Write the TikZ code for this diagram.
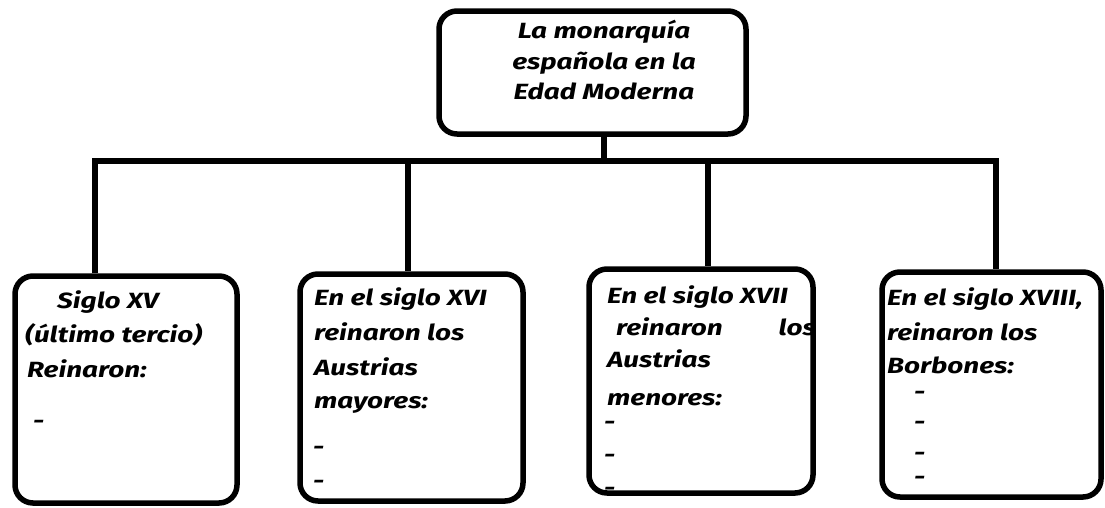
\documentclass[tikz,border=0pt]{standalone}
\usepackage{fontspec}
\newfontfamily\gsfont[FakeStretch=1.27]{Fira Sans}
\begin{document}
\begin{tikzpicture}[x=1pt,y=-1pt,
  box/.style={draw=black,line width=5.5pt,rounded corners=18pt,inner sep=0pt},
  conn/.style={draw=black,line width=6pt},
  txt/.style={anchor=base west,inner sep=0pt,font=\gsfont\bfseries\itshape\fontsize{22}{26}\selectfont},
  txtc/.style={txt,anchor=base}]
\useasboundingbox (0,0) rectangle (1105,507);
% boxes
\node[box,minimum width=307pt,minimum height=123pt] (top) at (592.5,72.5) {};
\node[box,minimum width=222pt,minimum height=227pt] (b1) at (126,389.5) {};
\node[box,minimum width=223pt,minimum height=227pt] (b2) at (411.5,387.5) {};
\node[box,minimum width=224pt,minimum height=224pt] (b3) at (701,381) {};
\node[box,minimum width=219pt,minimum height=225pt] (b4) at (991.5,384.5) {};
% connectors
\coordinate (hub) at (604,161);
\coordinate (d1) at (95,161);
\coordinate (d2) at (408,161);
\coordinate (d3) at (708,161);
\coordinate (d4) at (996,161);
\draw[conn] (top.south -| hub) -- (hub);
\draw[conn] (d1 |- b1.north) -- (d1) -- (d4) -- (d4 |- b4.north);
\draw[conn] (d2) -- (d2 |- b2.north);
\draw[conn] (d3) -- (d3 |- b3.north);
% top text
\node[txtc] (t1) at (604,38) {La monarquía};
\node[txtc] (t2) at (604,69) {española en la};
\node[txtc] (t3) at (604,99) {Edad Moderna};
% box 1
\node[txt] (a1) at (57,308) {Siglo XV};
\node[txt] (a2) at (25,342) {(último tercio)};
\node[txt] (a3) at (27,377) {Reinaron:};
\node[txt] (a4) at (33,428) {-};
% box 2
\node[txt] (c1) at (314,305) {En el siglo XVI};
\node[txt] (c2) at (314,340) {reinaron los};
\node[txt] (c3) at (314,375) {Austrias};
\node[txt] (c4) at (314,408) {mayores:};
\node[txt] (c5) at (313,454) {-};
\node[txt] (c6) at (313,488) {-};
% box 3
\node[txt] (e1) at (607,303) {En el siglo XVII};
\node[txt] (e2) at (616,335) {reinaron};
\node[txt,anchor=base east] (e2b) at (816,335) {los};
\node[txt] (e3) at (607,367) {Austrias};
\node[txt] (e4) at (607,405) {menores:};
\node[txt] (e5) at (604,429) {-};
\node[txt] (e6) at (604,462) {-};
\node[txt] (e7) at (604,495) {-};
% box 4
\node[txt] (f1) at (887,305) {En el siglo XVIII,};
\node[txt] (f2) at (887,340) {reinaron los};
\node[txt] (f3) at (887,373) {Borbones:};
\node[txt] (f4) at (914,399) {-};
\node[txt] (f5) at (914,429) {-};
\node[txt] (f6) at (914,460) {-};
\node[txt] (f7) at (914,484) {-};
\end{tikzpicture}
\end{document}
